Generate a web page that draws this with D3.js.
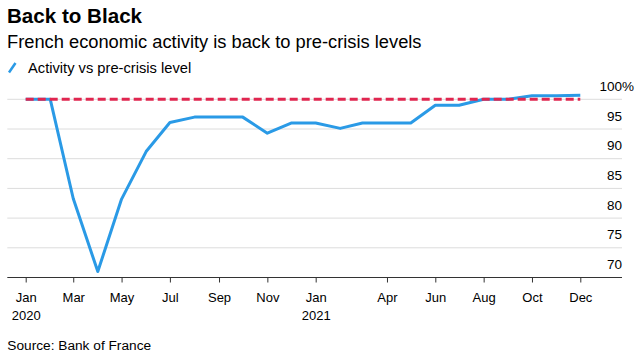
<!DOCTYPE html>
<html><head><meta charset="utf-8">
<script src="https://cdn.jsdelivr.net/npm/d3@7"></script>
<style>
body{margin:0;background:#fff;}
text{font-family:"Liberation Sans",Arial,sans-serif;fill:#000;}
</style></head>
<body><svg id="c" width="640" height="357"></svg>
<script>
const months = ["2020-01","2020-02","2020-03","2020-04","2020-05","2020-06","2020-07","2020-08","2020-09","2020-10","2020-11","2020-12",
"2021-01","2021-02","2021-03","2021-04","2021-05","2021-06","2021-07","2021-08","2021-09","2021-10","2021-11","2021-12"];
const activity = [100,100,83.3,71,83.2,91.2,96.1,97,97,97,94.3,96,96,95.1,96,96,96,99,99,100,100,100.6,100.6,100.7];
const preCrisis = 100;
const yTicks = [70,75,80,85,90,95,100];
const xTicks = ["2020-01","2020-03","2020-05","2020-07","2020-09","2020-11","2021-01","2021-04","2021-06","2021-08","2021-10","2021-12"];
const title = "Back to Black";
const subtitle = "French economic activity is back to pre-crisis levels";
const legendLabel = "Activity vs pre-crisis level";
const source = "Source: Bank of France";

const parse = d3.utcParse("%Y-%m");
const svg = d3.select("#c");
const x = d3.scaleUtc().domain([parse("2020-01"), parse("2021-12")]).range([25.7, 580.3]);
const y = d3.scaleLinear().domain([70, 100]).range([277.5, 99.3]);
const left = 7.3, right = 622;

// gridlines
svg.append("g").selectAll("line").data(yTicks.filter(d => d > 70)).join("line")
  .attr("x1", left).attr("x2", right).attr("y1", d => y(d)).attr("y2", d => y(d))
  .attr("stroke", "#dcdcdc").attr("stroke-width", 1);

// y labels
const yl = svg.append("g").selectAll("text").data(yTicks).join("text")
  .attr("x", right).attr("y", d => y(d) - 8.5)
  .attr("text-anchor", "end").attr("font-size", 13.5);
yl.text(d => d);
yl.filter(d => d === 100).each(function(d){
  d3.select(this.parentNode).append("text").attr("x", right).attr("y", y(d) - 8.5)
    .attr("font-size", 13.5).text("%");
});

// x axis
const xa = d3.axisBottom(x).tickValues(xTicks.map(parse)).tickSize(5).tickFormat("");
const gx = svg.append("g").attr("transform", `translate(0,${y(70)})`).call(xa);
gx.select(".domain").remove();
gx.selectAll(".tick line").attr("stroke", "#333");
svg.append("line").attr("x1", left).attr("x2", right).attr("y1", y(70)).attr("y2", y(70))
  .attr("stroke", "#333").attr("stroke-width", 1.2);
const fmtM = d3.utcFormat("%b");
gx.selectAll(".tick").each(function(d){
  const t = d3.select(this);
  t.append("text").attr("y", 24.5).attr("text-anchor","middle").attr("font-size",13).attr("fill","#000").text(fmtM(d));
  if (d.getUTCMonth() === 0) t.append("text").attr("y", 42.5).attr("text-anchor","middle").attr("font-size",13).attr("fill","#000").text(d.getUTCFullYear());
});

// activity line
const data = months.map((m,i) => ({date: parse(m), v: activity[i]}));
svg.append("path").datum(data)
  .attr("d", d3.line().x(d => x(d.date)).y(d => y(d.v)))
  .attr("fill","none").attr("stroke","#2a9ae6").attr("stroke-width",3).attr("stroke-linejoin","round");

// pre-crisis dashed
svg.append("line").attr("x1", x(parse(months[0]))).attr("x2", x(parse(months[months.length-1])))
  .attr("y1", y(preCrisis)).attr("y2", y(preCrisis))
  .attr("stroke","#e0264f").attr("stroke-width",3).attr("stroke-dasharray","8,4");

// titles
svg.append("text").attr("x",7).attr("y",22.7).attr("font-size",20.6).attr("font-weight","bold").text(title);
svg.append("text").attr("x",7).attr("y",48.3).attr("font-size",18.3).text(subtitle);
svg.append("line").attr("x1",9).attr("y1",72.5).attr("x2",15.5).attr("y2",63)
  .attr("stroke","#2a9ae6").attr("stroke-width",2.5);
svg.append("text").attr("x",28).attr("y",72.7).attr("font-size",14.7).text(legendLabel);
svg.append("text").attr("x",7.3).attr("y",350).attr("font-size",13.7).attr("fill","#222").text(source);
</script></body></html>
